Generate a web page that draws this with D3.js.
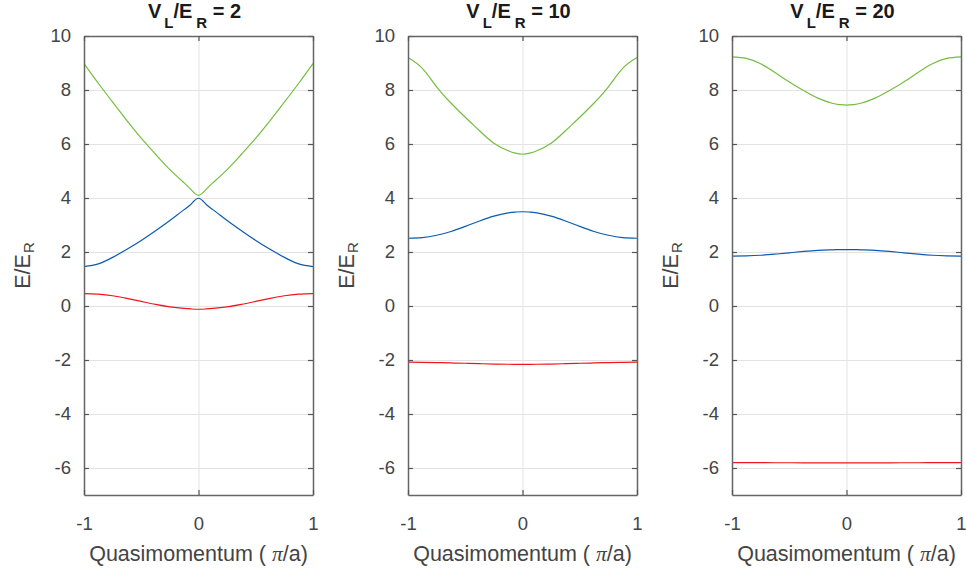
<!DOCTYPE html>
<html lang="en">
<head>
  <meta charset="UTF-8">
  <title>bands</title>
  <script src="https://cdn.jsdelivr.net/npm/d3@7"></script>
  <style>
    body { margin: 0; background: #fff; }
    text { font-family: "Liberation Sans", Arial, sans-serif; }
  </style>
</head>
<body>
<script>
let width = 966;
let height = 571;

// quasimomentum grid (pi/a)
let quasi = [-1, -0.875, -0.75, -0.625, -0.5, -0.375, -0.25, -0.125, -0.0625, 0,
  0.0625, 0.125, 0.25, 0.375, 0.5, 0.625, 0.75, 0.875, 1];

let depths = [2, 10, 20];

// band energies E/E_R, one array per band per depth
let band0V2 = [0.46, 0.44, 0.38, 0.28, 0.17, 0.06, -0.03, -0.09, -0.11, -0.12,
  -0.11, -0.09, -0.03, 0.06, 0.17, 0.28, 0.38, 0.44, 0.46];
let band1V2 = [1.46, 1.56, 1.8, 2.1, 2.43, 2.79, 3.17, 3.57, 3.78, 3.99,
  3.78, 3.57, 3.17, 2.79, 2.43, 2.1, 1.8, 1.56, 1.46];
let band2V2 = [8.98, 8.25, 7.55, 6.87, 6.22, 5.62, 5.05, 4.56, 4.3, 4.1,
  4.3, 4.56, 5.05, 5.62, 6.22, 6.87, 7.55, 8.25, 8.98];

let band0V10 = [-2.08, -2.085, -2.095, -2.11, -2.12, -2.135, -2.15, -2.157, -2.16, -2.16,
  -2.16, -2.157, -2.15, -2.135, -2.12, -2.11, -2.095, -2.085, -2.08];
let band1V10 = [2.51, 2.53, 2.62, 2.76, 2.95, 3.15, 3.33, 3.45, 3.48, 3.49,
  3.48, 3.45, 3.33, 3.15, 2.95, 2.76, 2.62, 2.53, 2.51];
let band2V10 = [9.2, 8.8, 8.12, 7.52, 6.99, 6.49, 6.03, 5.75, 5.66, 5.62,
  5.66, 5.75, 6.03, 6.49, 6.99, 7.52, 8.12, 8.8, 9.2];

let band0V20 = [-5.8, -5.8, -5.8, -5.805, -5.805, -5.81, -5.81, -5.81, -5.81, -5.81,
  -5.81, -5.81, -5.81, -5.81, -5.805, -5.805, -5.8, -5.8, -5.8];
let band1V20 = [1.85, 1.86, 1.88, 1.92, 1.97, 2.02, 2.06, 2.08, 2.09, 2.09,
  2.09, 2.08, 2.06, 2.02, 1.97, 1.92, 1.88, 1.86, 1.85];
let band2V20 = [9.23, 9.17, 8.97, 8.65, 8.3, 7.98, 7.7, 7.51, 7.46, 7.44,
  7.46, 7.51, 7.7, 7.98, 8.3, 8.65, 8.97, 9.17, 9.23];

let bands = [
  [band0V2, band1V2, band2V2],
  [band0V10, band1V10, band2V10],
  [band0V20, band1V20, band2V20]
];

let bandColors = ['#f0161c', '#0b5cad', '#74be3f'];
let xTicks = [-1, 0, 1];
let yTicks = [-6, -4, -2, 0, 2, 4, 6, 8, 10];

let panelLeft = [84, 408, 732];
let panelWidth = 229;
let plotTop = 36;
let plotBottom = 495;

let svg = d3.select('body')
  .append('svg')
  .attr('width', width)
  .attr('height', height);

let y = d3.scaleLinear()
  .domain([-7, 10])
  .range([plotBottom, plotTop]);

function renderPanel(i) {
  let x = d3.scaleLinear()
    .domain([-1, 1])
    .range([0, panelWidth]);

  let g = svg.append('g')
    .attr('transform', 'translate(' + panelLeft[i] + ',0)');

  // grid
  g.append('g')
    .attr('class', 'grid')
    .call(d3.axisLeft(y).tickValues(yTicks).tickSize(-panelWidth).tickFormat(''))
    .call(s => s.select('.domain').remove())
    .call(s => s.selectAll('line').attr('stroke', '#e3e3e3'));

  g.append('g')
    .attr('class', 'grid')
    .attr('transform', 'translate(0,' + plotBottom + ')')
    .call(d3.axisBottom(x).tickValues(xTicks).tickSize(-(plotBottom - plotTop)).tickFormat(''))
    .call(s => s.select('.domain').remove())
    .call(s => s.selectAll('line').attr('stroke', '#e3e3e3'));

  // bands
  let line = d3.line()
    .x((d, k) => x(quasi[k]))
    .y(d => y(d))
    .curve(d3.curveNatural);

  bands[i].forEach(function (vals, b) {
    g.append('path')
      .datum(vals)
      .attr('fill', 'none')
      .attr('stroke', bandColors[b])
      .attr('stroke-width', 1.2)
      .attr('d', line);
  });

  // axes (box with inward ticks)
  let fmt = d => String(d);
  let axes = [
    { a: d3.axisLeft(y).tickValues(yTicks).tickFormat(fmt).tickPadding(13), t: 'translate(0,0)' },
    { a: d3.axisRight(y).tickValues(yTicks).tickFormat(''), t: 'translate(' + panelWidth + ',0)' },
    { a: d3.axisBottom(x).tickValues(xTicks).tickFormat(fmt).tickPadding(22), t: 'translate(0,' + plotBottom + ')' },
    { a: d3.axisTop(x).tickValues(xTicks).tickFormat(''), t: 'translate(0,' + plotTop + ')' }
  ];
  axes.forEach(function (ax) {
    g.append('g')
      .attr('transform', ax.t)
      .call(ax.a.tickSizeInner(-5).tickSizeOuter(0))
      .call(s => s.select('.domain').attr('stroke', '#666').attr('stroke-width', 1.5))
      .call(s => s.selectAll('line').attr('stroke', '#555').attr('stroke-width', 1.2))
      .call(s => s.selectAll('text')
        .attr('fill', '#444')
        .style('font-size', '18.5px')
        .style('font-family', '"Liberation Sans", Arial, sans-serif'));
  });

  // title
  let title = g.append('text')
    .attr('x', panelWidth / 2 - 4)
    .attr('y', 18)
    .attr('text-anchor', 'middle')
    .attr('fill', '#1a1a1a')
    .style('font-size', '20px')
    .style('font-weight', 'bold');
  title.append('tspan').text('V');
  title.append('tspan').attr('dx', 3).attr('dy', 10).style('font-size', '15px').text('L');
  title.append('tspan').attr('dy', -10).text('/E');
  title.append('tspan').attr('dx', 4).attr('dy', 10).style('font-size', '15px').text('R');
  title.append('tspan').attr('dy', -10).text(' = ' + depths[i]);

  // y label
  let ylab = g.append('text')
    .attr('transform', 'translate(' + (30 - panelLeft[0]) + ',' + ((plotTop + plotBottom) / 2) + ') rotate(-90)')
    .attr('text-anchor', 'middle')
    .attr('fill', '#444')
    .style('font-size', '21.5px');
  ylab.append('tspan').text('E/E');
  ylab.append('tspan').attr('dx', 1).attr('dy', 4).style('font-size', '15px').text('R');

  // x label
  let xlab = g.append('text')
    .attr('x', panelWidth / 2)
    .attr('y', 561)
    .attr('text-anchor', 'middle')
    .attr('fill', '#444')
    .style('font-size', '21.5px');
  xlab.append('tspan').text('Quasimomentum ( ');
  xlab.append('tspan').style('font-family', '"Liberation Serif", serif').style('font-style', 'italic').text('\u03c0');
  xlab.append('tspan').text('/a)');
}

[0, 1, 2].forEach(renderPanel);
</script>
</body>
</html>
